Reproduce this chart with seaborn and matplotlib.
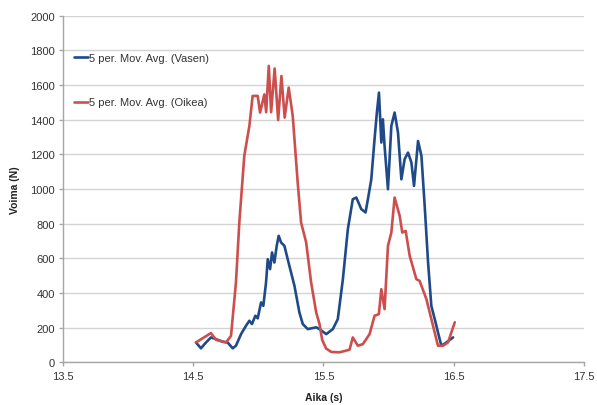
import pandas as pd
import matplotlib
matplotlib.use("Agg")
import matplotlib.pyplot as plt
import seaborn as sns

# Aika (s) ja voima (N), luettu kuvasta
vasen_t = [14.521, 14.559, 14.598, 14.636, 14.675, 14.726, 14.764, 14.803, 14.828,
           14.867, 14.905, 14.931, 14.951, 14.977, 14.995, 15.021, 15.038, 15.059,
           15.072, 15.09, 15.105, 15.123, 15.141, 15.156, 15.174, 15.2, 15.238,
           15.277, 15.315, 15.341, 15.379, 15.444, 15.469, 15.521, 15.572, 15.61,
           15.649, 15.687, 15.725, 15.752, 15.79, 15.823, 15.841, 15.867, 15.892,
           15.91, 15.926, 15.944, 15.956, 15.969, 15.995, 16.021, 16.046, 16.072,
           16.098, 16.123, 16.149, 16.175, 16.195, 16.226, 16.252, 16.277, 16.303,
           16.328, 16.354, 16.379, 16.405, 16.444, 16.495]
vasen_n = [115, 81, 115, 144, 134, 119, 115, 81, 96,
           163, 211, 240, 221, 269, 254, 346, 326, 461,
           595, 538, 634, 576, 672, 730, 692, 672, 557,
           442, 288, 221, 192, 202, 192, 163, 192, 250,
           480, 768, 941, 951, 884, 865, 941, 1056, 1287,
           1441, 1556, 1268, 1402, 1248, 999, 1364, 1441, 1326,
           1056, 1172, 1210, 1153, 1018, 1277, 1191, 903, 576,
           326, 250, 173, 96, 115, 144]

oikea_t = [14.521, 14.636, 14.675, 14.752, 14.79, 14.828, 14.854, 14.892, 14.931,
           14.956, 14.995, 15.013, 15.046, 15.06, 15.08, 15.098, 15.125, 15.152,
           15.177, 15.202, 15.233, 15.264, 15.302, 15.328, 15.367, 15.405, 15.444,
           15.47, 15.49, 15.52, 15.56, 15.623, 15.7, 15.725, 15.764, 15.802,
           15.854, 15.892, 15.925, 15.944, 15.969, 15.995, 16.021, 16.046, 16.085,
           16.105, 16.131, 16.162, 16.213, 16.238, 16.29, 16.341, 16.379, 16.418,
           16.456, 16.508]
oikea_n = [115, 169, 130, 115, 153, 461, 809, 1191, 1364,
           1537, 1537, 1441, 1546, 1443, 1710, 1443, 1695, 1398,
           1652, 1412, 1585, 1421, 1037, 807, 692, 461, 288,
           220, 130, 80, 60, 58, 73, 144, 96, 105,
           163, 269, 278, 422, 307, 672, 749, 951, 845,
           749, 758, 614, 480, 470, 365, 211, 96, 96,
           115, 231]

labels = ["5 per. Mov. Avg. (Vasen)", "5 per. Mov. Avg. (Oikea)"]
colors = ["#1f4a8a", "#cc4f4e"]

df = pd.concat([
    pd.DataFrame({"Aika": vasen_t, "Voima": vasen_n, "sarja": labels[0]}),
    pd.DataFrame({"Aika": oikea_t, "Voima": oikea_n, "sarja": labels[1]}),
])

sns.set_theme(style="white")
plt.rcParams["font.family"] = ["Liberation Sans", "DejaVu Sans"]

fig = plt.figure(figsize=(5.97, 4.06), dpi=100)
ax = fig.add_axes([0.1055, 0.105, 0.8727, 0.854])

sns.lineplot(data=df, x="Aika", y="Voima", hue="sarja", palette=colors,
             linewidth=1.9, sort=False, ax=ax, legend=False)

ax.set_xlim(13.5, 17.5)
ax.set_ylim(0, 2000)
ax.set_xticks([13.5, 14.5, 15.5, 16.5, 17.5])
ax.set_yticks(range(0, 2001, 200))
ax.yaxis.grid(True, color="#d4d4d4", linewidth=1)
ax.xaxis.grid(False)
for s in ["top", "right"]:
    ax.spines[s].set_visible(False)
for s in ["left", "bottom"]:
    ax.spines[s].set_color("#a6a6a6")
    ax.spines[s].set_linewidth(1)
ax.tick_params(axis="both", which="both", length=3, width=1, color="#a6a6a6",
               labelsize=8, labelcolor="#333333", pad=3)
ax.tick_params(axis="x", direction="out", bottom=True)
ax.tick_params(axis="y", direction="out", left=True)

ax.set_xlabel("Aika (s)", fontsize=7.5, fontweight="bold", color="#222222", labelpad=8)
ax.set_ylabel("Voima (N)", fontsize=7.5, fontweight="bold", color="#222222", labelpad=7)

handles = [plt.Line2D([], [], color=c, linewidth=1.9) for c in colors]
leg = ax.legend(handles, labels, loc="upper left", bbox_to_anchor=(0.012, 0.905),
                frameon=False, fontsize=8, handlelength=1.3, handletextpad=0.1,
                labelspacing=3.1, borderaxespad=0)
for t in leg.get_texts():
    t.set_color("#333333")

fig.savefig("out.png", dpi=100)
